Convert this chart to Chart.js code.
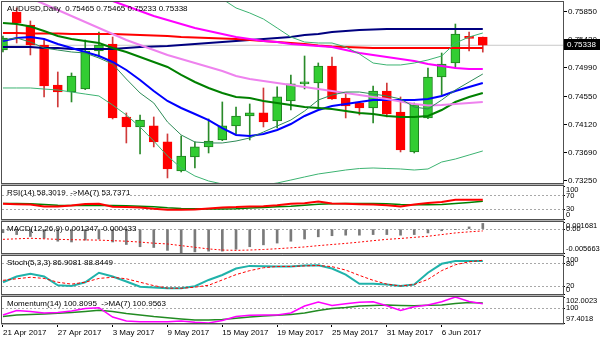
<!DOCTYPE html>
<html>
<head>
<meta charset="utf-8">
<script src="https://cdn.jsdelivr.net/npm/chart.js@4.4.1/dist/chart.umd.min.js"></script>
<style>
  html, body { margin: 0; padding: 0; background: #fff; }
  #wrap { position: relative; width: 600px; height: 343px; overflow: hidden; background: #fff; }
  #wrap canvas { position: absolute; left: 0; top: 0; }
</style>
</head>
<body>
<div id="wrap">
  <canvas id="cMain" width="600" height="343"></canvas>
  <canvas id="cRsi" width="600" height="343"></canvas>
  <canvas id="cMacd" width="600" height="343"></canvas>
  <canvas id="cStoch" width="600" height="343"></canvas>
  <canvas id="cMom" width="600" height="343"></canvas>
</div>
<script>
// ---------- daily bars ----------
const dates = ['21 Apr 2017','24 Apr 2017','25 Apr 2017','26 Apr 2017','27 Apr 2017','28 Apr 2017',
  '1 May 2017','2 May 2017','3 May 2017','4 May 2017','5 May 2017','8 May 2017','9 May 2017','10 May 2017',
  '11 May 2017','12 May 2017','15 May 2017','16 May 2017','17 May 2017','18 May 2017','19 May 2017',
  '22 May 2017','23 May 2017','24 May 2017','25 May 2017','26 May 2017','29 May 2017','30 May 2017',
  '31 May 2017','1 Jun 2017','2 Jun 2017','5 Jun 2017','6 Jun 2017','7 Jun 2017','8 Jun 2017','9 Jun 2017'];
const labelBars = [0, 4, 8, 12, 16, 20, 24, 28, 32];

const open  = [0.75266,0.75850,0.75650,0.75342,0.74727,0.74620,0.74666,0.75250,0.75358,0.74235,0.74081,0.74097,0.73851,0.73405,0.73620,0.73774,0.73881,0.74097,0.74250,0.74297,0.74174,0.74481,0.74743,0.74758,0.75019,0.74527,0.74450,0.74374,0.74635,0.74312,0.73697,0.74220,0.74850,0.75066,0.75455,0.75465];
const high  = [0.75481,0.75912,0.75712,0.75419,0.74927,0.74912,0.75419,0.75542,0.75465,0.74297,0.74266,0.74235,0.73974,0.73943,0.73851,0.74204,0.74466,0.74389,0.74435,0.74681,0.74697,0.74881,0.75173,0.75066,0.75158,0.74604,0.74466,0.74712,0.74758,0.74543,0.74450,0.74989,0.75219,0.75665,0.75542,0.75465];
const low   = [0.75235,0.75373,0.75189,0.74543,0.74389,0.74466,0.74655,0.75158,0.74204,0.73835,0.73666,0.73774,0.73297,0.73389,0.73451,0.73681,0.73870,0.73974,0.73881,0.74081,0.74066,0.74343,0.74666,0.74389,0.74505,0.74220,0.74266,0.74143,0.74235,0.73697,0.73681,0.74210,0.74573,0.74989,0.75250,0.75233];
const close = [0.75450,0.75681,0.75342,0.74712,0.74620,0.74866,0.75250,0.75342,0.74220,0.74081,0.74189,0.73851,0.73435,0.73635,0.73774,0.73866,0.74097,0.74250,0.74297,0.74158,0.74543,0.74743,0.74758,0.75019,0.74512,0.74404,0.74374,0.74635,0.74281,0.73728,0.74420,0.74850,0.75050,0.75512,0.75445,0.75338];

// ---------- overlays on the price window ----------
const maNavy    = [0.75312,0.75312,0.75312,0.75296,0.75296,0.75281,0.75281,0.75281,0.75281,0.75296,0.75312,0.75319,0.75327,0.75342,0.75358,0.75373,0.75388,0.75404,0.75419,0.75435,0.75450,0.75465,0.75496,0.75512,0.75542,0.75558,0.75573,0.75581,0.75588,0.75588,0.75588,0.75588,0.75588,0.75588,0.75588,0.75588];
const maRed     = [0.75527,0.75527,0.75519,0.75519,0.75519,0.75512,0.75512,0.75512,0.75512,0.75504,0.75496,0.75488,0.75481,0.75465,0.75458,0.75450,0.75442,0.75435,0.75419,0.75404,0.75388,0.75373,0.75358,0.75335,0.75319,0.75312,0.75304,0.75296,0.75296,0.75296,0.75296,0.75296,0.75296,0.75296,0.75296,0.75296];
const maMagenta = [0.76496,0.76435,0.76373,0.76312,0.76250,0.76188,0.76127,0.76081,0.76019,0.75942,0.75865,0.75788,0.75727,0.75665,0.75604,0.75558,0.75512,0.75465,0.75435,0.75404,0.75388,0.75358,0.75342,0.75327,0.75312,0.75265,0.75219,0.75188,0.75158,0.75127,0.75096,0.75050,0.75019,0.74988,0.74973,0.74973];
const maViolet  = [0.76250,0.76158,0.76065,0.75973,0.75881,0.75788,0.75696,0.75604,0.75512,0.75419,0.75342,0.75265,0.75188,0.75127,0.75065,0.75004,0.74942,0.74865,0.74819,0.74788,0.74758,0.74727,0.74696,0.74665,0.74635,0.74604,0.74573,0.74542,0.74512,0.74473,0.74435,0.74411,0.74419,0.74435,0.74450,0.74465];
const maBlue    = [0.75404,0.75450,0.75465,0.75435,0.75358,0.75296,0.75235,0.75173,0.75081,0.74958,0.74804,0.74635,0.74481,0.74373,0.74281,0.74188,0.74065,0.73958,0.73942,0.73973,0.74035,0.74127,0.74250,0.74342,0.74404,0.74435,0.74465,0.74496,0.74496,0.74496,0.74496,0.74512,0.74558,0.74635,0.74696,0.74758];
const maGreen   = [0.75681,0.75665,0.75627,0.75558,0.75481,0.75435,0.75404,0.75373,0.75296,0.75235,0.75158,0.75081,0.75004,0.74881,0.74773,0.74681,0.74604,0.74542,0.74527,0.74481,0.74450,0.74419,0.74388,0.74373,0.74358,0.74327,0.74296,0.74281,0.74250,0.74235,0.74235,0.74250,0.74342,0.74465,0.74542,0.74604];
const maThin    = [0.75419,0.75450,0.75388,0.75296,0.75265,0.75235,0.75219,0.75142,0.75050,0.74819,0.74604,0.74450,0.74158,0.73958,0.73850,0.73835,0.73835,0.73865,0.73912,0.74004,0.74096,0.74188,0.74327,0.74496,0.74573,0.74619,0.74619,0.74588,0.74558,0.74512,0.74388,0.74358,0.74496,0.74650,0.74773,0.74896];
const bandUpper = [0.76112,0.76127,0.76142,0.76158,0.76188,0.76219,0.76250,0.76281,0.76312,0.76342,0.76358,0.76358,0.76342,0.76296,0.76235,0.76158,0.76050,0.75912,0.75835,0.75742,0.75604,0.75465,0.75388,0.75373,0.75373,0.75312,0.75204,0.75065,0.75035,0.75035,0.75065,0.75112,0.75173,0.75373,0.75465,0.75527];
const bandLower = [0.74681,0.74681,0.74681,0.74665,0.74650,0.74619,0.74588,0.74558,0.74419,0.74265,0.74081,0.73865,0.73635,0.73450,0.73327,0.73250,0.73204,0.73173,0.73173,0.73188,0.73219,0.73265,0.73312,0.73358,0.73388,0.73419,0.73442,0.73450,0.73442,0.73435,0.73419,0.73435,0.73542,0.73588,0.73650,0.73712];
const priceTicks = [0.73250,0.73690,0.74120,0.74550,0.74990,0.75420,0.75850];

// ---------- RSI(14) with MA(7) ----------
const rsi   = [46,45,44,38,38,41,45.5,46,37,36,35,31,28,28,29,32,35,36,38,39,42,46,48,53,47,46,45,44,42,38,44,48.5,51.5,58,58,58.3019];
const rsiMa = [47,47,46,44,42,41,41,41,41,40,39,37,34,32,31,30,30,31,33,35,37,39,42,45,46,47,47,47,46,44,43,43,44,47,50,53.7371];
const rsiTicks = [0, 30, 70, 100];
const rsiLevels = [30, 70];

// ---------- MACD(12,26,9) ----------
const macdMain   = [-0.00086,-0.00130,-0.00175,-0.00217,-0.00287,-0.00305,-0.00261,-0.00235,-0.00305,-0.00365,-0.00418,-0.00436,-0.00504,-0.005663,-0.00540,-0.00522,-0.00522,-0.00478,-0.00418,-0.00373,-0.00331,-0.00287,-0.00235,-0.00183,-0.00157,-0.00144,-0.00144,-0.00130,-0.00130,-0.00144,-0.00130,-0.00091,-0.00039,-0.00008,0.00052,0.001347];
const macdSignal = [-0.00243,-0.00230,-0.00217,-0.00230,-0.00243,-0.00251,-0.00256,-0.00261,-0.00274,-0.00287,-0.00308,-0.00334,-0.00352,-0.00392,-0.00431,-0.00470,-0.00496,-0.00504,-0.00496,-0.00483,-0.00465,-0.00444,-0.00423,-0.00392,-0.00365,-0.00339,-0.00308,-0.00274,-0.00243,-0.00222,-0.00196,-0.00170,-0.00130,-0.00091,-0.00065,-0.000433];
const macdTicks = [-0.005663, 0, 0.001681];
const macdLevels = [0];

// ---------- Stochastic(5,3,3) ----------
const stochMain   = [31,46,53,46,23,21,31,56,46,33,19,17,15,15,20.5,37,50,67,74,73,72.5,72.5,75,75.6,67,51,27,27,25,21,25,56,79.5,87,87,86.9081];
const stochSignal = [36,40,44,41,31,26,31,41,44,40,31,22,15.5,15,18,23,37,51,61.5,69,72.5,72.5,74,75,72,63,49,36,26,21,25,38.5,61.5,77,84.6,88.8449];
const stochTicks = [0, 20, 80, 100];
const stochLevels = [20, 80];

// ---------- Momentum(14) with MA(7) ----------
const momentum   = [98.82,99.61,99.44,99.17,99.26,99.53,99.97,100.11,98.46,97.76,97.63,97.63,97.63,97.76,97.53,97.4018,97.84,98.55,98.78,98.82,98.82,99.17,100.41,101.12,100.50,100.80,101.08,101.17,100.46,99.61,100.29,100.59,101.17,102.0023,101.21,100.8095];
const momentumMa = [98.55,98.82,98.91,98.99,99.12,99.26,99.44,99.65,99.44,99.08,98.82,98.55,98.34,98.11,97.93,97.93,98.02,98.23,98.46,98.64,98.76,98.91,99.17,99.61,99.97,100.14,100.41,100.50,100.59,100.50,100.46,100.53,100.59,100.85,101.03,100.9563];
const momTicks = [97.4018, 100, 102.0023];
const momLevels = [100];

// ---------- layout ----------
const W = 600, H = 343;
const AXIS_W = 37;                   // right price axis
const DATE_AXIS_H = 20;              // date strip under the last window
const X_MIN = -0.07, X_MAX = 40.85;  // bar index range incl. right shift
const FAMILY = "'Liberation Sans', Arial, sans-serif";
const FONT = '8px ' + FAMILY;
Chart.defaults.font.family = FAMILY;
Chart.defaults.font.size = 8;
Chart.defaults.color = '#000';

const last = close.length - 1;
const bars = dates.map((_, i) => i);
const pts = arr => arr.map((v, i) => ({ x: i, y: v }));

function xAxis(show) {
  return {
    type: 'linear', min: X_MIN, max: X_MAX, offset: false, display: show,
    afterBuildTicks: s => { s.ticks = labelBars.map(v => ({ value: v })); },
    ticks: { callback: v => dates[v], align: 'start', maxRotation: 0, autoSkip: false, padding: 1, color: '#000' },
    grid: { drawOnChartArea: false, drawTicks: true, tickLength: 4, tickColor: '#000' },
    border: { display: false },
    afterFit: s => { s.height = show ? DATE_AXIS_H : 0; s.paddingLeft = 0; s.paddingRight = 0; }
  };
}

function yAxis(tickVals, fmt, levels, min, max, sub) {
  return {
    type: 'linear', position: 'right', min, max,
    afterBuildTicks: s => { s.ticks = tickVals.map(v => ({ value: v })); },
    ticks: { callback: fmt, autoSkip: false, padding: 1, color: '#000',
             font: { size: sub ? 7.5 : 8 } },
    grid: {
      drawOnChartArea: levels.length > 0,
      color: c => (c.tick && levels.includes(c.tick.value)) ? '#a8a8a8' : 'rgba(0,0,0,0)',
      tickColor: '#000', tickLength: sub ? 2 : 4, lineWidth: 1
    },
    border: { display: false, dash: [2, 2] },
    afterFit: s => { s.width = AXIS_W; s.paddingTop = 0; s.paddingBottom = 0; }
  };
}

// window frame
const framePlugin = {
  id: 'frame',
  afterDraw(chart) {
    const { ctx, chartArea: a } = chart;
    ctx.save();
    ctx.strokeStyle = '#505050';
    ctx.lineWidth = 1;
    ctx.strokeRect(a.left - 0.5, a.top - 0.5, a.right - a.left + 1, a.bottom - a.top + 1);
    ctx.strokeStyle = '#b4b4b4';
    ctx.beginPath();
    ctx.moveTo(a.left - 1, a.bottom + 1.5); ctx.lineTo(a.right + 1, a.bottom + 1.5);
    ctx.stroke();
    ctx.restore();
  }
};

// indicator caption in the top-left corner of a window
function captionPlugin(text) {
  return {
    id: 'caption',
    afterDraw(chart) {
      const { ctx, chartArea: a } = chart;
      ctx.save();
      ctx.font = FONT; ctx.fillStyle = '#000';
      ctx.textAlign = 'left'; ctx.textBaseline = 'middle';
      ctx.fillText(text, a.left + 5, a.top + 7);
      ctx.restore();
    }
  };
}

// keep the min / max scale labels inside their window
const edgeLabelPlugin = {
  id: 'edgeLabels',
  beforeDraw(chart) {
    const s = chart.scales.y, a = chart.chartArea;
    const items = s.getLabelItems();
    items.forEach((it, k) => {
      const t = s.ticks[k];
      if (!t) return;
      if (t.value === s.max) it.options.translation[1] = a.top + 4;
      else if (t.value === s.min) it.options.translation[1] = a.bottom - 4;
    });
  }
};

// black bid tag on the price axis
const bidTagPlugin = {
  id: 'bidTag',
  afterDraw(chart) {
    const { ctx } = chart;
    const s = chart.scales.y;
    const y = Math.round(s.getPixelForValue(close[last]));
    ctx.save();
    ctx.fillStyle = '#000';
    ctx.fillRect(s.left + 1, y - 6, W - s.left - 1, 11);
    ctx.fillStyle = '#fff'; ctx.font = FONT;
    ctx.textAlign = 'left'; ctx.textBaseline = 'middle';
    ctx.fillText(close[last].toFixed(5), s.left + 4, y);
    ctx.restore();
  }
};

function pane(id, top, bottom, datasets, yOpts, caption, showX, extra) {
  return new Chart(document.getElementById(id), {
    type: 'line',
    data: { datasets },
    options: {
      responsive: false, animation: false, events: [],
      layout: { padding: { left: 2, right: 0, top: top, bottom: showX ? H - bottom - DATE_AXIS_H : H - bottom } },
      plugins: { legend: { display: false }, tooltip: { enabled: false } },
      scales: { x: xAxis(showX), y: yOpts },
      elements: { point: { radius: 0 }, line: { tension: 0 } }
    },
    plugins: [framePlugin, captionPlugin(caption), edgeLabelPlugin].concat(extra || [])
  });
}

function line(data, color, width, order, dash) {
  return { type: 'line', data: pts(data), borderColor: color, borderWidth: width,
           borderDash: dash || [], pointRadius: 0, fill: false, order, clip: 0 };
}

// ---------- price window ----------
const up = bars.map(i => close[i] >= open[i]);
const wickColors = up.map(u => u ? '#2a8a2a' : '#d03a3a');
const bodyFill   = up.map(u => u ? '#32CD32' : '#FF0000');
const bodyEdge   = up.map(u => u ? '#1e7f1e' : '#FF0000');

pane('cMain', 2, 183, [
  line(maThin, '#2E8B57', 1, 1),
  line(bandUpper, '#3CB371', 1, 1),
  line(bandLower, '#3CB371', 1, 1),
  line(maViolet, '#EE82EE', 2, 1),
  line(maGreen, '#008000', 2, 1),
  line(maBlue, '#0000FF', 2, 1),
  line(maMagenta, '#FF00FF', 2, 1),
  line(maRed, '#FF0000', 2, 1),
  line(maNavy, '#000080', 2, 1),
  { type: 'bar', data: bars.map(i => ({ x: i, y: [open[i], close[i]] })),
    backgroundColor: bodyFill, borderColor: bodyEdge, borderWidth: 1, borderSkipped: false,
    barThickness: 9, minBarLength: 2, grouped: false, order: 2 },
  { type: 'bar', data: bars.map(i => ({ x: i, y: [low[i], high[i]] })),
    backgroundColor: wickColors, borderWidth: 0, barThickness: 1, grouped: false, order: 3 },
  { type: 'line', data: [{ x: X_MIN, y: close[last] }, { x: X_MAX, y: close[last] }],
    borderColor: '#c8c8c8', borderWidth: 1, pointRadius: 0, order: 4, clip: 0 }
], yAxis(priceTicks, v => v.toFixed(5), [], 0.732192, 0.760038, false),
  'AUDUSD,Daily  ' + [open[last], high[last], low[last], close[last]].map(v => v.toFixed(5)).join(' '),
  false, [bidTagPlugin]);

// ---------- RSI window ----------
pane('cRsi', 186, 219, [
  line(rsi, '#FF0000', 2, 1),
  line(rsiMa, '#008000', 1.5, 2)
], yAxis(rsiTicks, v => String(v), rsiLevels, 0, 100, true),
  'RSI(14) ' + rsi[last].toFixed(4) + '  ->MA(7) ' + rsiMa[last].toFixed(4), false);

// ---------- MACD window ----------
pane('cMacd', 222, 253, [
  line(macdSignal, '#FF0000', 1, 1, [2, 2]),
  { type: 'bar', data: pts(macdMain), backgroundColor: '#7a7a7a', barThickness: 2,
    borderWidth: 0, grouped: false, order: 2 }
], yAxis(macdTicks, v => v === 0 ? '0.00' : v.toFixed(6), macdLevels, macdTicks[0], macdTicks[2], true),
  'MACD(12,26,9) ' + macdMain[last].toFixed(6) + ' ' + macdSignal[last].toFixed(6), false);

// ---------- Stochastic window ----------
pane('cStoch', 256, 294, [
  line(stochSignal, '#FF0000', 1, 1, [3, 2]),
  line(stochMain, '#20B2AA', 2, 2)
], yAxis(stochTicks, v => String(v), stochLevels, 0, 100, true),
  'Stoch(5,3,3) ' + stochMain[last].toFixed(4) + ' ' + stochSignal[last].toFixed(4), false);

// ---------- Momentum window (carries the date axis) ----------
pane('cMom', 297, 323, [
  line(momentum, '#FF00FF', 1.5, 1),
  line(momentumMa, '#228B22', 1.5, 2)
], yAxis(momTicks, v => v === 100 ? '100' : v.toFixed(4), momLevels, momTicks[0], momTicks[2], true),
  'Momentum(14) ' + momentum[last].toFixed(4) + '  ->MA(7) ' + momentumMa[last].toFixed(4), true);
</script>
</body>
</html>
